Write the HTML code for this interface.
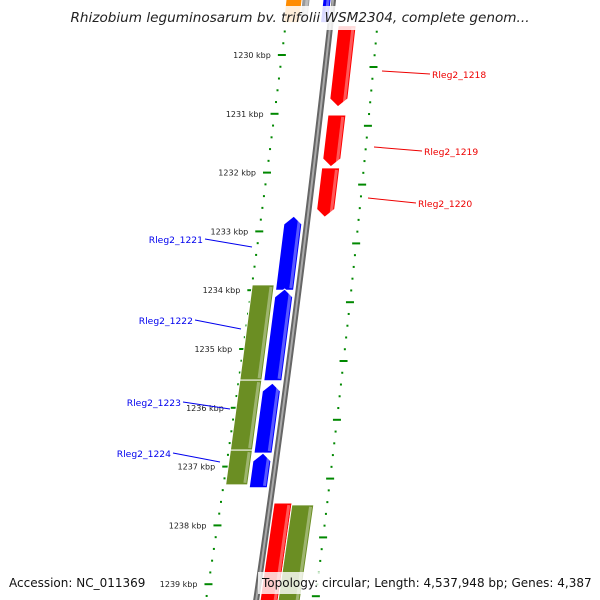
<!DOCTYPE html>
<html><head><meta charset="utf-8"><style>
body{margin:0;background:#fff;}
svg{display:block;font-family:"DejaVu Sans","Liberation Sans",sans-serif;}
</style></head><body>
<svg id="c" width="600" height="600"></svg>
<script>
const geneNames=["Rleg2_1218","Rleg2_1219","Rleg2_1220","Rleg2_1221","Rleg2_1222","Rleg2_1223","Rleg2_1224","g-a","g-b","g-c","r-d","g-e","top-orange","top-gray","top-blue"];
const geneStart=[1229.5,1231.02,1231.92,1232.74,1233.98,1235.58,1236.77,1233.91,1235.53,1236.72,1237.62,1237.65,1228.8,1228.8,1228.8];
const geneEnd=[1230.88,1231.90,1232.76,1234.00,1235.54,1236.77,1237.36,1235.53,1236.72,1237.31,1239.4,1239.4,1229.45,1229.45,1229.45];
const geneStrand=[-1,-1,-1,1,1,1,1,0,0,0,0,0,0,0,0];
const geneTrack=[1,1,1,-1,-1,-1,-1,-2,-2,-2,0.7,2,-2,-1.3,-0.4];
const geneColor=["#f00","#f00","#f00","#00f","#00f","#00f","#00f","#6b8e23","#6b8e23","#6b8e23","#f00","#6b8e23","#ff8c00","#999","#00f"];
const tickKbp=[1230,1231,1232,1233,1234,1235,1236,1237,1238,1239];
const labelGene=[0,1,2,3,4,5,6];
const NS="http://www.w3.org/2000/svg";
const svg=document.getElementById('c');
function yOf(k){return 55+(k-1230)*58.8;}
function xc(y){return 333-0.11*y-0.00003*y*y;}
function xL(y){return xc(y)-45-(y-55)*0.0095;}
function xR(y){return xc(y)+48+(y-67)*0.021;}
function trackOff(t){return t===1?17:t===0.7?13:t===2?33:t===-1?-14:t===-2?-36:t===-1.3?-27:-6;}
function mk(tag,attrs,parent){const e=document.createElementNS(NS,tag);for(const k in attrs)e.setAttribute(k,attrs[k]);(parent||svg).appendChild(e);return e;}
for(let i=-4;i<=52;i++){
 const kk=1230+i*0.2;const y=yOf(kk);const major=(i%5===0);
 const x=xL(y);
 const d=mk('line',{x1:x-(major?4:1),y1:y,x2:x+(major?4:1),y2:y,stroke:'#080',"stroke-width":2});
 
 const y2=y+12;const x2=xR(y2);
 const d2=mk('line',{x1:x2-(major?4:1),y1:y2,x2:x2+(major?4:1),y2:y2,stroke:'#080',"stroke-width":2});
 
}
tickKbp.forEach(k=>{const y=yOf(k);const t=mk('text',{x:xL(y)-11,y:y+3,"font-size":8,"text-anchor":"end",fill:"#222"});t.textContent=k+' kbp';
 });
let pts=[];for(let y=-5;y<=605;y+=10)pts.push(xc(y)+','+y);
const bb=mk('polyline',{points:pts.join(' '),fill:'none',stroke:'#666',"stroke-width":6});

const bb2=mk('polyline',{points:pts.join(' '),fill:'none',stroke:'#aaa',"stroke-width":2});

geneStart.forEach((s,i)=>{
 const y1=yOf(s),y2=yOf(geneEnd[i]);const off=trackOff(geneTrack[i]);const w=geneTrack[i]===-2||geneTrack[i]===2?22:(geneTrack[i]<0&&geneTrack[i]>-1.5&&i>=12?8:18);
 const a=(y)=>xc(y)+off;const h=8;let p;
 if(geneStrand[i]===1){p=[[a(y2)-w/2,y2],[a(y1+h)-w/2,y1+h],[a(y1),y1],[a(y1+h)+w/2,y1+h],[a(y2)+w/2,y2]];}
 else if(geneStrand[i]===-1){p=[[a(y1)-w/2,y1],[a(y1)+w/2,y1],[a(y2-h)+w/2,y2-h],[a(y2),y2],[a(y2-h)-w/2,y2-h]];}
 else p=[[a(y1)-w/2,y1],[a(y1)+w/2,y1],[a(y2)+w/2,y2],[a(y2)-w/2,y2]];
 const g=mk('polygon',{points:p.map(q=>q.join(',')).join(' '),fill:geneColor[i],stroke:'#fff',"stroke-width":1});
 
 const hl=mk('line',{x1:a(y1+2)+w/2-3,y1:y1+2,x2:a(y2-2)+w/2-3,y2:y2-2,stroke:'rgba(255,255,255,0.35)',"stroke-width":3});
 
});
const lblPos=[[432,78,382,71],[424,155,374,147],[418,207,368,198],[203,243,252,247],[193,324,241,329],[181,406,230,409],[171,457,220,462]];
labelGene.forEach((gi,j)=>{const [tx,ty,lx,ly]=lblPos[j];const right=geneTrack[gi]>0;const col=right?'#e00':'#00e';
 const l=mk('line',{x1:right?tx-2:tx+2,y1:ty-4,x2:lx,y2:ly,stroke:col,"stroke-width":1});
 
 const t=mk('text',{x:tx,y:ty,"font-size":9.2,"text-anchor":right?"start":"end",fill:col});t.textContent=geneNames[gi];
 });
const tb=mk('rect',{x:0,y:6,width:600,height:24,fill:'rgba(255,255,255,0.85)'});

const tt=mk('text',{x:300,y:22,"font-size":13.6,"font-style":"italic","text-anchor":"middle",fill:"#222"});
tt.textContent='Rhizobium leguminosarum bv. trifolii WSM2304, complete genom...';

const ac=mk('text',{x:9,y:587,"font-size":12,fill:"#111"});ac.textContent='Accession: NC_011369';

const bg=mk('rect',{x:258,y:572,width:338,height:22,fill:'rgba(255,255,255,0.8)'});

const tp=mk('text',{x:262,y:587,"font-size":12,fill:"#111"});tp.textContent='Topology: circular; Length: 4,537,948 bp; Genes: 4,387';

</script>
</body></html>
